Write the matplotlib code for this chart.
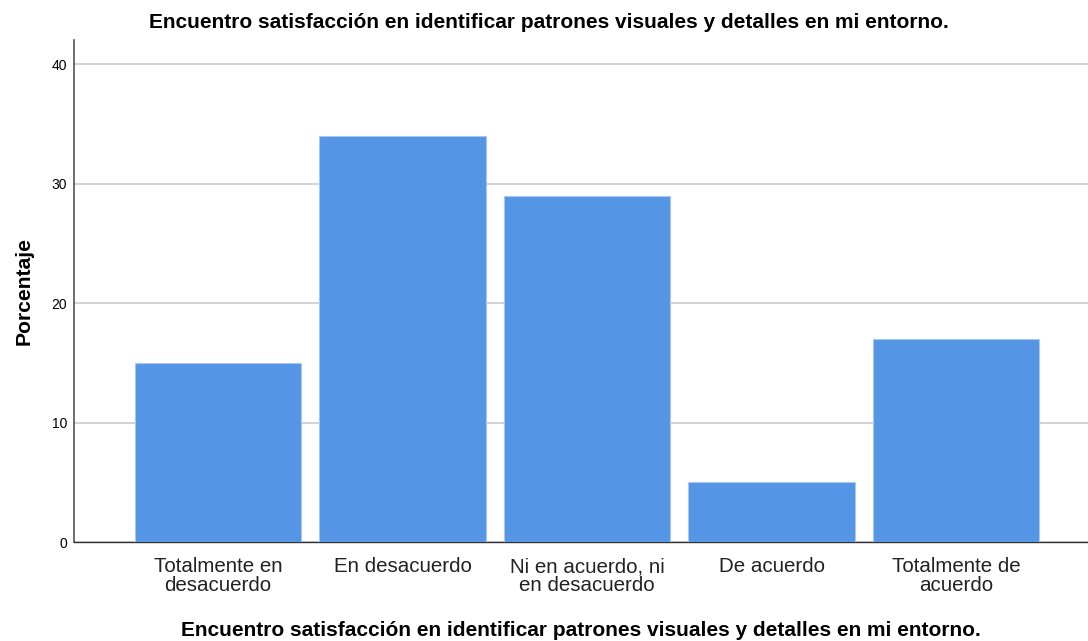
import matplotlib
matplotlib.use("Agg")
import matplotlib.pyplot as plt

categories = ["Totalmente en\ndesacuerdo", "En desacuerdo", "Ni en acuerdo, ni\nen desacuerdo",
              "De acuerdo", "Totalmente de\nacuerdo"]
values = [15, 34, 29, 5, 17]
yticks = [0, 10, 20, 30, 40]
title = "Encuentro satisfacción en identificar patrones visuales y detalles en mi entorno."

plt.rcParams['font.family'] = ['Liberation Sans', 'DejaVu Sans']

W, H = 1088, 641
fig = plt.figure(figsize=(W/100, H/100), dpi=100)
ax = fig.add_axes([74/W, (H-542)/H, (W-74)/W, (542-40)/H])

x = list(range(len(categories)))
ax.bar(x, values, width=0.9, color='#5595e5', edgecolor='#a9c8f0', linewidth=0.8, zorder=3)
ax.set_xlim(-0.78, 4.715)
ax.set_ylim(0, 42.05)
ax.set_yticks(yticks)
ax.set_yticklabels([str(v) for v in yticks], fontsize=10)
ax.set_xticks(x)
ax.set_xticklabels(categories, fontsize=14.8, color='#222222', linespacing=0.95)
ax.tick_params(axis='y', length=0, pad=5)
ax.tick_params(axis='x', length=0, pad=11)
ax.yaxis.grid(True, color='#cccccc', linewidth=1.2, zorder=0)
ax.set_axisbelow(True)
for s in ['top', 'right']:
    ax.spines[s].set_visible(False)
ax.spines['left'].set_color('#555555')
ax.spines['bottom'].set_color('#333333')
ax.spines['left'].set_linewidth(1.2)
ax.spines['bottom'].set_linewidth(1.0)

ax.set_ylabel("Porcentaje", fontsize=15.2, fontweight='bold', labelpad=13)
ax.set_xlabel(title, fontsize=15, fontweight='bold', labelpad=19)
fig.text(549/W, 1 - 22/H, title, ha='center', va='center', fontsize=15, fontweight='bold')

fig.savefig("out.png", dpi=100)
